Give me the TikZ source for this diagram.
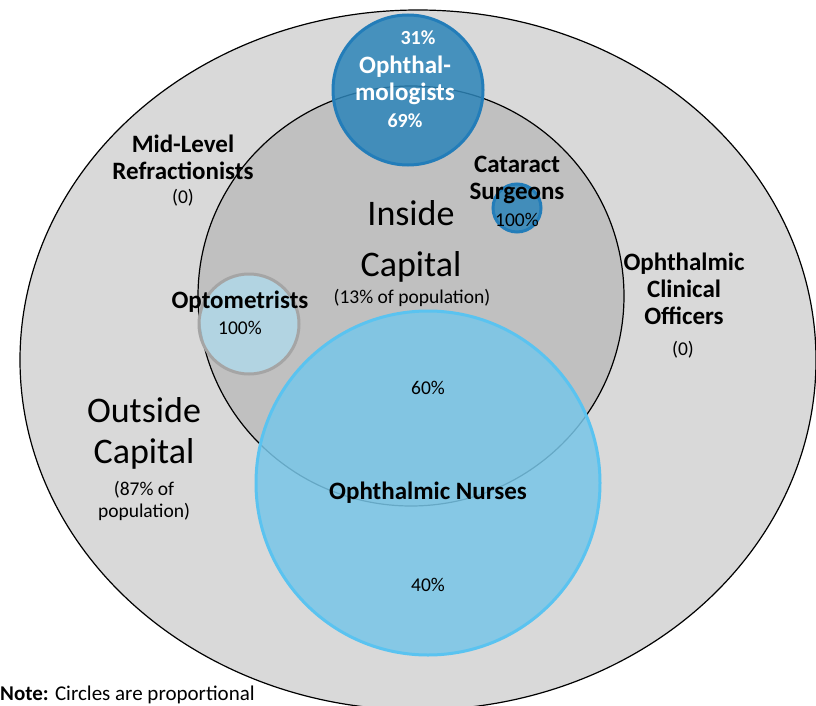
\documentclass[tikz,border=0pt]{standalone}
\usepackage{fontspec}
\setmainfont{Carlito}
\usetikzlibrary{shapes.geometric}
\definecolor{capOuter}{RGB}{217,217,217}
\definecolor{capInner}{RGB}{192,192,192}
\definecolor{ophBlue}{RGB}{45,133,185}
\definecolor{ophEdge}{RGB}{35,125,185}
\definecolor{optFill}{RGB}{176,216,232}
\definecolor{optEdge}{RGB}{165,165,165}
\definecolor{nurseFill}{RGB}{120,198,232}
\definecolor{nurseEdge}{RGB}{90,195,240}

\begin{document}
\begin{tikzpicture}[x=1pt, y=-1pt,
    region/.style={ellipse, draw=black, line width=1.2pt, inner sep=0pt},
    cadre/.style={circle, inner sep=0pt, line width=3pt, fill opacity=0.85},
    bold/.style={font=\fontsize{25}{27}\selectfont\bfseries, align=center, inner sep=0pt},
    share/.style={font=\fontsize{19.5}{22}\selectfont, align=center, inner sep=0pt},
    big/.style={font=\fontsize{36}{44}\selectfont, inner sep=0pt}
  ]
  \useasboundingbox (0,0) rectangle (816,706);
  % regions
  \node[region, fill=capOuter, minimum width=796pt, minimum height=700pt] (outside) at (418,360) {};
  \node[region, fill=capInner, minimum width=426pt, minimum height=420pt] (inside) at (411,296) {};
  % cadres
  \node[cadre, draw=ophEdge, fill=ophBlue, minimum size=150pt] (ophth) at (408,90) {};
  \node[cadre, draw=ophEdge, fill=ophBlue, minimum size=48pt] (cataract) at (517,208) {};
  \node[cadre, draw=optEdge, fill=optFill, minimum size=100pt] (optom) at (249,324) {};
  \node[cadre, draw=nurseEdge, fill=nurseFill, minimum size=344pt] (nurses) at (428,483) {};

  % labels
  \node[share, text=white, font=\fontsize{20}{24}\selectfont\bfseries] (ophthTop) at (418,38) {31\%};
  \node[bold, text=white] (ophthName) at (405,80) {Ophthal-\\mologists};
  \node[share, text=white, font=\fontsize{20}{24}\selectfont\bfseries] (ophthBot) at (405,121) {69\%};
  \node[bold] (catName) at (517,180) {Cataract\\Surgeons};
  \node[share] (catShare) at (517,220) {100\%};
  \node[bold] (midName) at (183,157) {Mid-Level\\Refractionists};
  \node[share] (midShare) at (183,198) {(0)};
  \node[big] (insideA) at (411,213) {Inside};
  \node[big] (insideB) at (411,267) {Capital};
  \node[share] (insidePop) at (412,298) {(13\% of population)};
  \node[bold] (optName) at (240,302) {Optometrists};
  \node[share] (optShare) at (240,328) {100\%};
  \node[bold] (cloName) at (684,289) {Ophthalmic\\Clinical\\Officers};
  \node[share] (cloShare) at (683,350) {(0)};
  \node[share] (nurseIn) at (428,388) {60\%};
  \node[big] (outsideA) at (144,410) {Outside};
  \node[big] (outsideB) at (144,454) {Capital};
  \node[share] (outsidePop) at (144,501) {(87\% of\\population)};
  \node[bold] (nurseName) at (428,493) {Ophthalmic Nurses};
  \node[share] (nurseOut) at (428,585) {40\%};
  \node[share, font=\fontsize{21}{24}\selectfont, anchor=base west] (note) at (0,700) {\textbf{Note:} Circles are proportional};
\end{tikzpicture}
\end{document}
